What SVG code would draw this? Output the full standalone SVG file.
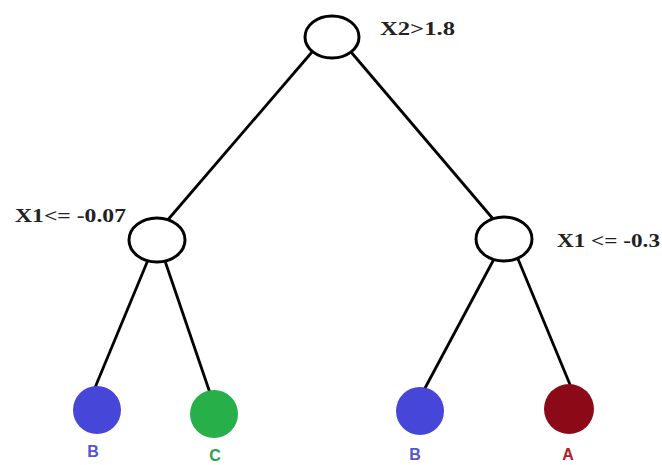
<svg xmlns="http://www.w3.org/2000/svg" width="662" height="465" viewBox="0 0 662 465">
<style>
.edge{stroke:#000;stroke-width:2.8;fill:none}
.split{fill:#fff;stroke:#000;stroke-width:3}
.cond{font-family:"Liberation Serif",serif;font-weight:bold;font-size:19px;fill:#222}
.lbl{font-family:"Liberation Sans",sans-serif;font-weight:bold;font-size:16px;text-anchor:middle}
</style>
<rect width="662" height="465" fill="#fff"/>
<g id="connectors">
<line class="edge" x1="312" y1="52" x2="166" y2="222"/>
<line class="edge" x1="351" y1="52" x2="494" y2="220"/>
<line class="edge" x1="148" y1="260" x2="94" y2="390"/>
<line class="edge" x1="165" y1="261" x2="210" y2="393"/>
<line class="edge" x1="494" y1="259" x2="424" y2="390"/>
<line class="edge" x1="518" y1="259" x2="571" y2="387"/>
</g>
<g id="root">
<ellipse class="split" cx="332" cy="37" rx="27" ry="21"/>
<text class="cond" x="380" y="35" textLength="75" lengthAdjust="spacingAndGlyphs">X2&gt;1.8</text>
</g>
<g id="left-split">
<ellipse class="split" cx="157" cy="240" rx="28" ry="22"/>
<text class="cond" x="15" y="222" textLength="111" lengthAdjust="spacingAndGlyphs">X1&lt;= -0.07</text>
</g>
<g id="right-split">
<ellipse class="split" cx="504" cy="239" rx="28" ry="22"/>
<text class="cond" x="557" y="247" textLength="103" lengthAdjust="spacingAndGlyphs">X1 &lt;= -0.3</text>
</g>
<g id="leaf-B1">
<circle cx="97" cy="410" r="24" fill="#4646d8"/>
<text class="lbl" x="93" y="457" fill="#5555cc">B</text>
</g>
<g id="leaf-C">
<circle cx="214" cy="414" r="24" fill="#27b04a"/>
<text class="lbl" x="215" y="461" fill="#2fa050">C</text>
</g>
<g id="leaf-B2">
<circle cx="420" cy="411" r="24" fill="#4646d8"/>
<text class="lbl" x="415" y="460" fill="#5555cc">B</text>
</g>
<g id="leaf-A">
<circle cx="569" cy="409" r="25" fill="#8c0a18"/>
<text class="lbl" x="568" y="460" fill="#b02028">A</text>
</g>
</svg>
